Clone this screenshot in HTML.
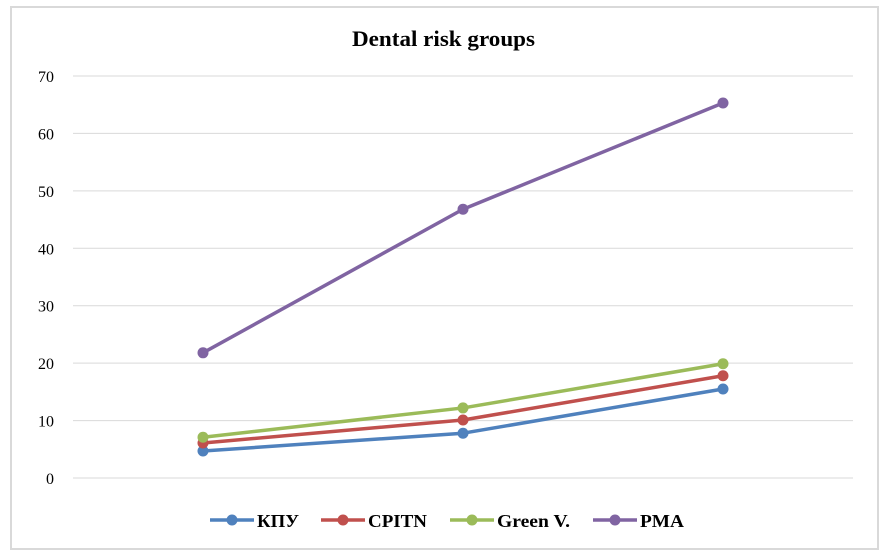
<!DOCTYPE html>
<html><head><meta charset="utf-8"><style>
html,body{margin:0;padding:0;background:#fff;}
svg{display:block;font-family:"Liberation Serif",serif;}
</style></head><body>
<svg id="chart" width="888" height="560" xmlns="http://www.w3.org/2000/svg">
<rect x="11" y="7" width="867" height="542" fill="#fff" stroke="#d9d9d9" stroke-width="2"/>
<text x="352" y="46" font-size="22" font-weight="bold" textLength="183" lengthAdjust="spacingAndGlyphs">Dental risk groups</text>
<g id="grid"></g><g id="series"></g><g id="legend"></g>
</svg>
<script>
const categories = ["1", "2", "3"];
const seriesNames = ["КПУ", "CPITN", "Green V.", "PMA"];
const kpu = [4.7, 7.8, 15.5];
const cpitn = [6.1, 10.1, 17.8];
const green = [7.1, 12.2, 19.9];
const pma = [21.8, 46.8, 65.3];
const yTicks = [0, 10, 20, 30, 40, 50, 60, 70];

const NS = "http://www.w3.org/2000/svg";
const colors = ["#4f81bd", "#c0504d", "#9bbb59", "#8064a2"];
const allSeries = [kpu, cpitn, green, pma];
const x0 = 73, x1 = 853, y0 = 478, y1 = 76;
const band = (x1 - x0) / categories.length;
function xScale(i) { return x0 + band * (i + 0.5); }
function yScale(v) { return y0 - (v / 70) * (y0 - y1); }
function mk(tag, attrs, parent) {
  const e = document.createElementNS(NS, tag);
  for (const k in attrs) e.setAttribute(k, attrs[k]);
  parent.appendChild(e); return e;
}
const grid = document.getElementById("grid");
yTicks.forEach(t => {
  const l = mk("line", {x1: x0, x2: x1, y1: yScale(t), y2: yScale(t), stroke: "#d9d9d9", "stroke-width": 1}, grid);
  
  
  const tx = mk("text", {x: 54, y: yScale(t) + 6, "text-anchor": "end", "font-size": 16, fill: "#000"}, grid);
  tx.textContent = t;
  
  
});
const sg = document.getElementById("series");
allSeries.forEach((s, si) => {
  const pts = s.map((v, i) => xScale(i) + "," + yScale(v)).join(" ");
  const pl = mk("polyline", {points: pts, fill: "none", stroke: colors[si], "stroke-width": 3.5, "stroke-linejoin": "round"}, sg);
  
  
  s.forEach((v, i) => {
    const c = mk("circle", {cx: xScale(i), cy: yScale(v), r: 5.5, fill: colors[si]}, sg);
    
    
  });
});
const lg = document.getElementById("legend");
const lx = [210, 321, 450, 593];
const lw = [42, 59, 73, 44];
seriesNames.forEach((n, i) => {
  const g = mk("g", {}, lg);
  
  
  mk("line", {x1: lx[i], x2: lx[i] + 44, y1: 520, y2: 520, stroke: colors[i], "stroke-width": 3.5}, g);
  mk("circle", {cx: lx[i] + 22, cy: 520, r: 5.5, fill: colors[i]}, g);
  const t = mk("text", {x: lx[i] + 47, y: 527, "font-size": 18, "font-weight": "bold", textLength: lw[i], lengthAdjust: "spacingAndGlyphs"}, g);
  t.textContent = n;
});
</script>
</body></html>
